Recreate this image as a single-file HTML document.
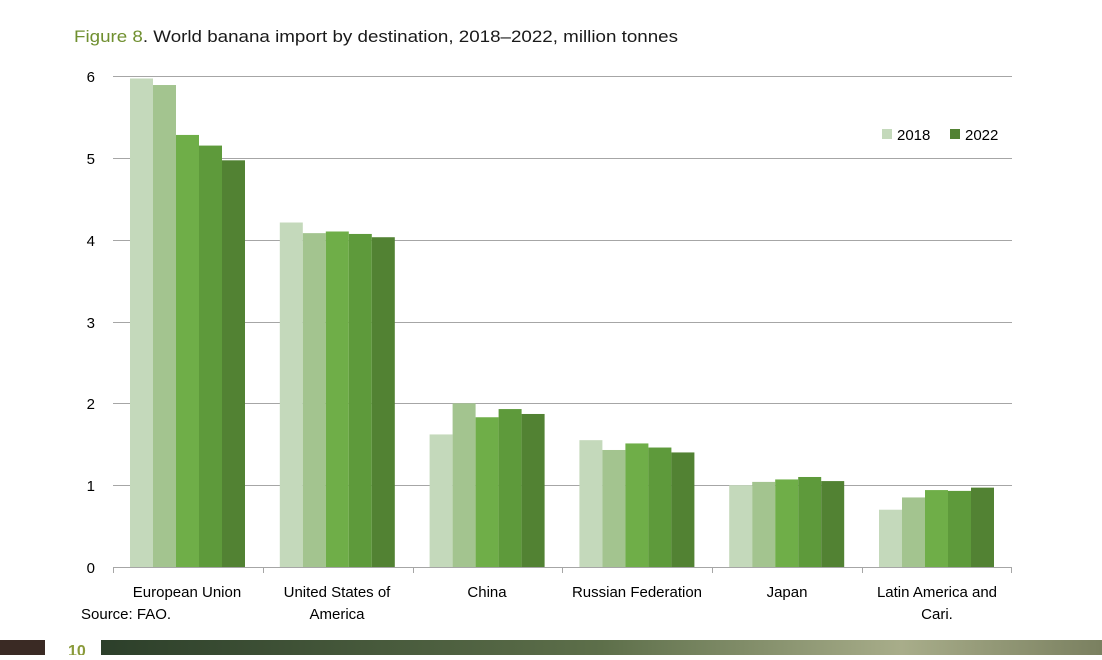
<!DOCTYPE html>
<html><head><style>
body{margin:0;width:1102px;height:655px;overflow:hidden;background:#fff;font-family:"Liberation Sans",sans-serif;}
</style></head><body>
<svg width="1102" height="655" xmlns="http://www.w3.org/2000/svg" font-family="Liberation Sans, sans-serif">
<defs><linearGradient id="g" x1="0" x2="1"><stop offset="0" stop-color="#2c3f2a"/><stop offset="0.5" stop-color="#5d6f4a"/><stop offset="0.8" stop-color="#a8ad8a"/><stop offset="1" stop-color="#7a8060"/></linearGradient></defs>
<text x="74" y="42" font-size="17" fill="#1a1a1a" textLength="604" lengthAdjust="spacingAndGlyphs"><tspan fill="#6f8f2f">Figure 8</tspan>. World banana import by destination, 2018–2022, million tonnes</text>
<g stroke="#a6a6a6" stroke-width="1">
<line x1="113" x2="1012" y1="76.5" y2="76.5"/><line x1="113" x2="1012" y1="158.5" y2="158.5"/><line x1="113" x2="1012" y1="240.5" y2="240.5"/><line x1="113" x2="1012" y1="322.5" y2="322.5"/><line x1="113" x2="1012" y1="403.5" y2="403.5"/><line x1="113" x2="1012" y1="485.5" y2="485.5"/>
</g>
<g font-size="15" fill="#000" text-anchor="end">
<text x="95" y="82">6</text><text x="95" y="164">5</text><text x="95" y="246">4</text><text x="95" y="328">3</text><text x="95" y="409">2</text><text x="95" y="491">1</text><text x="95" y="573">0</text>
</g>
<g id="bars"></g>
<g stroke="#a6a6a6"><line x1="113" x2="1012" y1="567.5" y2="567.5"/>
<line x1="113.5" x2="113.5" y1="567" y2="573"/><line x1="263.5" x2="263.5" y1="567" y2="573"/><line x1="413.5" x2="413.5" y1="567" y2="573"/><line x1="562.5" x2="562.5" y1="567" y2="573"/><line x1="712.5" x2="712.5" y1="567" y2="573"/><line x1="862.5" x2="862.5" y1="567" y2="573"/><line x1="1011.5" x2="1011.5" y1="567" y2="573"/></g>
<g font-size="15" fill="#000" text-anchor="middle">
<text x="187" y="597">European Union</text>
<text x="337" y="597">United States of</text><text x="337" y="619">America</text>
<text x="487" y="597">China</text>
<text x="637" y="597">Russian Federation</text>
<text x="787" y="597">Japan</text>
<text x="937" y="597">Latin America and</text><text x="937" y="619">Cari.</text>
</g>
<text x="81" y="619" font-size="15" fill="#000">Source:  FAO.</text>
<rect x="882" y="129" width="10" height="10" fill="#c4d9bb"/><text x="897" y="140" font-size="15">2018</text>
<rect x="950" y="129" width="10" height="10" fill="#528233"/><text x="965" y="140" font-size="15">2022</text>
<rect x="0" y="640" width="45" height="15" fill="#3a2a24"/>
<text x="68" y="656" font-size="16" font-weight="bold" fill="#8a9a3a">10</text>
<rect x="101" y="640" width="1001" height="15" fill="url(#g)"/>
</svg>
<script>
var d=[[5.97,5.89,5.28,5.15,4.97],[4.21,4.08,4.10,4.07,4.03],[1.62,2.00,1.83,1.93,1.87],[1.55,1.43,1.51,1.46,1.40],[1.00,1.04,1.07,1.10,1.05],[0.70,0.85,0.94,0.93,0.97]];
var c=["#c4d9bb","#a3c48f","#6fae48","#5e9a3b","#528233"];
var g=document.getElementById("bars"),s="";
d.forEach(function(r,i){r.forEach(function(v,j){var h=v*81.83;s+='<rect x="'+(130+i*149.8+j*23)+'" y="'+(567-h)+'" width="23" height="'+h+'" fill="'+c[j]+'"/>';});});
g.innerHTML=s;
</script>
</body></html>
